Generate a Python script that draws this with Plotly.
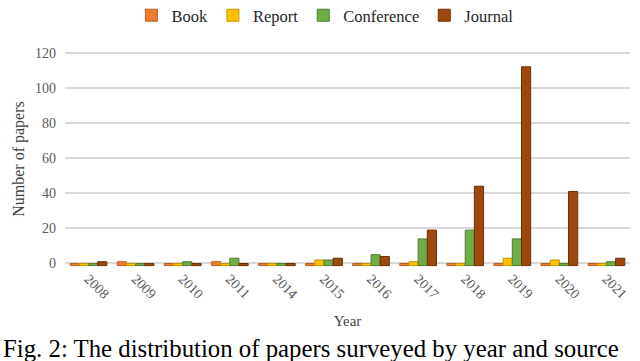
import numpy as np
import plotly.graph_objects as go

years = ["2008", "2009", "2010", "2011", "2014", "2015", "2016",
         "2017", "2018", "2019", "2020", "2021"]
book = [0, 1, 0, 1, 0, 0, 0, 0, 0, 0, 0, 0]
report = [0, 0, 0, 0, 0, 2, 0, 1, 0, 3, 2, 0]
conference = [0, 0, 1, 3, 0, 2, 5, 14, 19, 14, 0, 1]
journal = [1, 0, 0, 0, 0, 3, 4, 19, 44, 112, 41, 3]

series = [
    ("Book", book, "#ED7D31", "#B85F22"),
    ("Report", report, "#FFC000", "#C79500"),
    ("Conference", conference, "#70AD47", "#4F7F30"),
    ("Journal", journal, "#9E480E", "#6B2F08"),
]

# small floor so zero bars show as flat slabs like the 3D original
FLOOR = 1.2

fig = go.Figure()
for name, vals, col, edge in series:
    v = np.array(vals, dtype=float)
    fig.add_trace(go.Bar(
        x=years, y=v + FLOOR, base=-FLOOR, name=name,
        customdata=v, hovertemplate="%{x}: %{customdata}<extra>" + name + "</extra>",
        marker=dict(color=col, line=dict(color=edge, width=1)),
    ))

# plot area: left 65, right 630, top 51, bottom 267
fig.add_annotation(
    text="Fig. 2: The distribution of papers surveyed by year and source",
    xref="paper", yref="paper", x=-64 / 565, y=-(333 - 267) / 216,
    xanchor="left", yanchor="top", showarrow=False,
    font=dict(family="Liberation Serif", size=24.8, color="#000"),
)

fig.update_layout(
    barmode="group", bargap=0.22, bargroupgap=0.0,
    width=640, height=361,
    plot_bgcolor="white", paper_bgcolor="white",
    margin=dict(l=65, r=10, t=51, b=94, autoexpand=False),
    font=dict(family="Liberation Serif", color="#404040"),
    legend=dict(orientation="h", x=0.46, xanchor="center",
                y=(267 + 2) / 216, yanchor="top",
                font=dict(size=16.5, color="#262626"),
                itemwidth=30, traceorder="normal", tracegroupgap=0),
    showlegend=True,
)
fig.update_xaxes(tickangle=45, tickfont=dict(size=14, color="#595959"),
                 showline=False, ticks="", automargin=False,
                 title=dict(text="Year", font=dict(size=15, color="#404040"), standoff=14))
fig.update_yaxes(range=[-2, 121], tickvals=[0, 20, 40, 60, 80, 100, 120],
                 gridcolor="#D9D9D9", gridwidth=1.5, zeroline=False,
                 tickfont=dict(size=14, color="#595959"), ticks="",
                 ticklabelstandoff=8, automargin=False,
                 title=dict(text="Number of papers", font=dict(size=16, color="#404040"), standoff=6))

fig.write_html("out.html", config={"displayModeBar": False},
               post_script="document.body.style.margin='0';")
